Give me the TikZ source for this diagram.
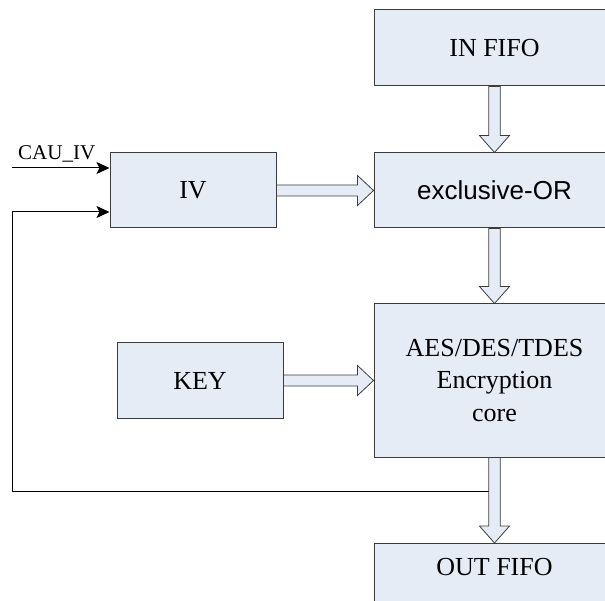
\documentclass[tikz,border=0pt]{standalone}
\usepackage{fontspec}
\setmainfont{Liberation Serif}
\newfontfamily\arialfont{Liberation Sans}
\usetikzlibrary{arrows.meta,calc}
\definecolor{boxfill}{RGB}{230,236,246}
\definecolor{boxline}{RGB}{60,60,60}
\tikzset{
  blk/.style={draw=boxline, fill=boxfill, line width=1pt, rectangle, inner sep=0pt,
    font=\fontsize{26}{32.5}\selectfont, align=center},
  hollow/.style={draw=boxline, fill=boxfill, line width=0.8pt, line join=miter},
  sig/.style={draw=black, line width=1pt, -{Stealth[length=13pt,width=12pt,inset=3pt]}},
  plainline/.style={draw=black, line width=1pt},
  lbl/.style={font=\fontsize{26}{32.5}\selectfont, inner sep=0pt},
}
\newcommand\downarr[2]{%
  \path[hollow] let \p1=(#1), \p2=(#2) in
    (\x1-5.75pt,\y1) -- (\x1+5.75pt,\y1) -- (\x1+5.75pt,\y2+17pt) -- (\x1+15pt,\y2+17pt)
    -- (\x1,\y2) -- (\x1-15pt,\y2+17pt) -- (\x1-5.75pt,\y2+17pt) -- cycle;}
\newcommand\rightarr[2]{%
  \path[hollow] let \p1=(#1), \p2=(#2) in
    (\x1,\y1+5.5pt) -- (\x2-16pt,\y1+5.5pt) -- (\x2-16pt,\y1+15pt) -- (\x2,\y1)
    -- (\x2-16pt,\y1-15pt) -- (\x2-16pt,\y1-5.5pt) -- (\x1,\y1-5.5pt) -- cycle;}
\begin{document}
\begin{tikzpicture}[x=1pt,y=-1pt]
  \useasboundingbox (0,0) rectangle (605,601);
  % boxes
  \node[blk, minimum width=241pt, minimum height=76pt] (infifo) at (494.5,48) {IN FIFO};
  \node[blk, minimum width=241pt, minimum height=75pt, font=\arialfont\fontsize{26}{32.5}\selectfont] (xor) at (494.5,190.5) {exclusive-OR};
  \node[blk, minimum width=241pt, minimum height=153pt] (aes) at (494.5,380.5) {AES/DES/TDES\\Encryption\\core};
  \node[blk, minimum width=241pt, minimum height=110pt] (outfifo) at (494.5,598.5) {};
  \node[lbl, anchor=base] (outtxt) at (494.5,575) {OUT FIFO};
  \node[blk, minimum width=166pt, minimum height=75pt] (iv) at (193,190.5) {IV};
  \node[blk, minimum width=166pt, minimum height=75pt] (key) at (200,380.5) {KEY};
  % CAU_IV input
  \coordinate (cau) at (12,168);
  \draw[sig] (cau) -- (cau -| iv.west);
  \node[font=\fontsize{21}{25}\selectfont, inner sep=0pt, anchor=base west] (caulbl) at (18,160) {CAU\_IV};
  % feedback line
  \coordinate (fb) at (494.5,491);
  \coordinate (fbl) at (12,491);
  \coordinate (fbu) at (12,212);
  \draw[plainline] (fb) -- (fbl) -- (fbu);
  \draw[sig] (fbu) -- (fbu -| iv.west);
  % hollow arrows
  \downarr{infifo.south}{xor.north}
  \downarr{xor.south}{aes.north}
  \downarr{aes.south}{outfifo.north}
  \rightarr{iv.east}{xor.west}
  \rightarr{key.east}{aes.west}
\end{tikzpicture}
\end{document}
